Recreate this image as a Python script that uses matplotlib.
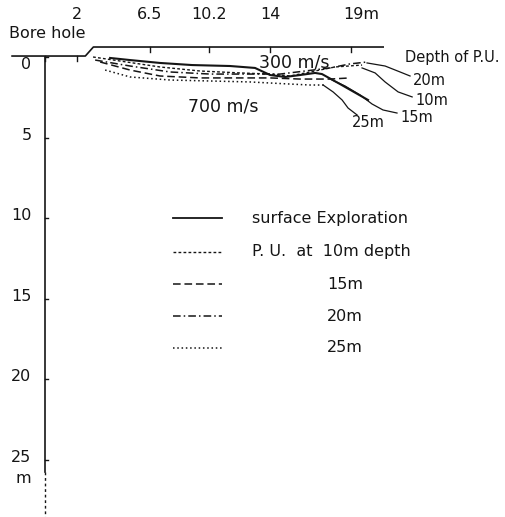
import matplotlib
matplotlib.use("Agg")
import matplotlib.pyplot as plt

# ---- data (metres: horizontal distance from bore hole, depth) ----
surf_x = [4.04, 5.28, 7.14, 9.13, 11.49, 13.04, 13.98, 14.91, 15.84, 16.77, 17.2, 18.32, 20.06]
surf_d = [0.06, 0.19, 0.37, 0.50, 0.56, 0.68, 1.12, 1.24, 1.12, 0.99, 1.06, 1.68, 2.67]

pu10_x = [2.98, 4.66, 7.14, 9.63, 12.11, 13.98, 15.22, 16.46, 18.01, 19.69]
pu10_d = [0.00, 0.25, 0.62, 0.87, 0.99, 1.06, 1.18, 0.93, 0.62, 0.50]

pu15_x = [3.42, 5.28, 7.14, 9.63, 12.11, 13.98, 15.84, 17.70, 18.94]
pu15_d = [0.31, 0.81, 1.18, 1.30, 1.30, 1.30, 1.37, 1.37, 1.30]

pu20_x = [3.11, 5.28, 7.76, 10.25, 12.73, 14.60, 16.15, 17.70, 18.94, 20.00]
pu20_d = [0.19, 0.56, 0.93, 1.06, 1.06, 1.06, 0.87, 0.68, 0.43, 0.31]

pu25_x = [3.73, 5.28, 7.76, 10.25, 12.73, 15.22, 16.46, 17.39]
pu25_d = [0.81, 1.24, 1.43, 1.49, 1.55, 1.68, 1.74, 1.74]

# leader lines to the depth labels
lead20_x = [20.0, 21.12, 22.05, 22.67]
lead20_d = [0.37, 0.56, 0.93, 1.18]
lead10_x = [19.69, 20.5, 21.12, 21.93, 22.8]
lead10_d = [0.68, 0.99, 1.55, 2.17, 2.48]
lead15_x = [17.83, 18.63, 19.57, 20.31, 20.99, 21.86]
lead15_d = [1.43, 1.80, 2.36, 2.92, 3.29, 3.48]
lead25_x = [17.27, 17.89, 18.45, 18.82, 19.38]
lead25_d = [1.74, 2.17, 2.67, 3.17, 3.60]

top_ticks = [2, 6.5, 10.2, 14, 19]
top_labels = ["2", "6.5", "10.2", "14", "19m"]
depth_ticks = [0, 5, 10, 15, 20, 25]

legend_labels = ["surface Exploration", "P. U.  at  10m depth", "15m", "20m", "25m"]

# ---- figure ----
fig = plt.figure(figsize=(5.06, 5.17), dpi=100)
ax = fig.add_axes([0, 0, 1, 1])
ax.set_xlim(-2.8, 28.63)
ax.set_ylim(28.57, -3.54)
ax.axis("off")

ink = "#151515"
fs = 11.5

# ground surface
ax.plot([-2.05, 2.5, 3.0, 21.0], [-0.06, -0.06, -0.62, -0.62], color=ink, lw=1.2)
for t in top_ticks:
    base = -0.06 if t <= 2.5 else -0.62
    ax.plot([t, t], [base, base + 0.3], color=ink, lw=1.0)
ax.plot([0, 0], [-0.06, 0.25], color=ink, lw=1.0)
for t, lab in zip(top_ticks, top_labels):
    if lab.endswith("m"):
        ax.text(t - 0.5, -2.67, lab, ha="left", va="center", fontsize=fs, color=ink)
    else:
        ax.text(t, -2.67, lab, ha="center", va="center", fontsize=fs, color=ink)
ax.text(0.16, -1.49, "Bore hole", ha="center", va="center", fontsize=fs, color=ink)

# depth axis
ax.plot([0, 0], [0, 25.8], color=ink, lw=1.2)
ax.plot([0, 0], [25.8, 28.6], color=ink, lw=1.0, ls=(0, (2, 2)))
for t in depth_ticks:
    ax.plot([0, 0.2], [t, t], color=ink, lw=1.0)
    off = 0.45 if t == 0 else -0.15
    ax.text(-0.85, t + off, str(t), ha="right", va="center", fontsize=fs, color=ink)
ax.text(-0.85, 26.2, "m", ha="right", va="center", fontsize=fs, color=ink)

# boundary lines
styles = {
    "surf": dict(ls="-", lw=1.5),
    "10": dict(ls=(0, (2.0, 1.6)), lw=1.0),
    "15": dict(ls=(0, (5, 2.5)), lw=1.1),
    "20": dict(ls=(0, (5, 2, 1, 2)), lw=1.1),
    "25": dict(ls=(0, (1, 1.8)), lw=1.1),
}
ax.plot(surf_x, surf_d, color=ink, **styles["surf"])
ax.plot(pu10_x, pu10_d, color=ink, **styles["10"])
ax.plot(pu15_x, pu15_d, color=ink, **styles["15"])
ax.plot(pu20_x, pu20_d, color=ink, **styles["20"])
ax.plot(pu25_x, pu25_d, color=ink, **styles["25"])

for lx, ld in [(lead20_x, lead20_d), (lead10_x, lead10_d), (lead15_x, lead15_d), (lead25_x, lead25_d)]:
    ax.plot(lx, ld, color=ink, lw=0.9)

fs2 = 10.5
ax.text(22.36, 0.06, "Depth of P.U.", ha="left", va="center", fontsize=fs2, color=ink)
ax.text(22.86, 1.43, "20m", ha="left", va="center", fontsize=fs2, color=ink)
ax.text(23.0, 2.73, "10m", ha="left", va="center", fontsize=fs2, color=ink)
ax.text(22.06, 3.73, "15m", ha="left", va="center", fontsize=fs2, color=ink)
ax.text(19.07, 4.04, "25m", ha="left", va="center", fontsize=fs2, color=ink)

ax.text(15.5, 0.37, "300 m/s", ha="center", va="center", fontsize=12.5, color=ink)
ax.text(11.06, 3.1, "700 m/s", ha="center", va="center", fontsize=12.5, color=ink)

# legend (drawn manually)
fs3 = 11.5
rows = [10.0, 12.11, 14.1, 16.09, 18.07]
keys = ["surf", "10", "15", "20", "25"]
for r, k, lab in zip(rows, keys, legend_labels):
    st = dict(styles[k])
    if k == "surf":
        st["lw"] = 1.3
    ax.plot([7.95, 10.99], [r, r], color=ink, **st)
    if k in ("surf", "10"):
        ax.text(12.86, r, lab, ha="left", va="center", fontsize=fs3, color=ink)
    else:
        ax.text(18.63, r, lab, ha="center", va="center", fontsize=fs3, color=ink)

fig.savefig("out.png", dpi=100, facecolor="white")
